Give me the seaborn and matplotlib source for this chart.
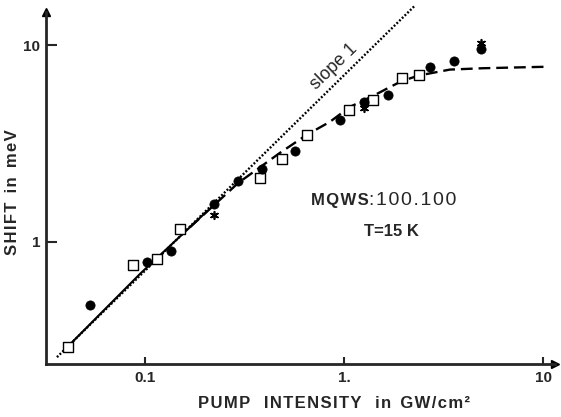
import numpy as np
import matplotlib
matplotlib.use("Agg")
import matplotlib.pyplot as plt
import pandas as pd
import seaborn as sns

# values (log-log)
sq_x = [0.041, 0.087, 0.115, 0.150, 0.378, 0.487, 0.647, 1.06, 1.40, 1.94, 2.38]
sq_y = [0.292, 0.764, 0.817, 1.16, 2.10, 2.62, 3.49, 4.67, 5.25, 6.82, 7.04]

dot_x = [0.053, 0.102, 0.135, 0.222, 0.294, 0.385, 0.569, 0.951, 1.26, 1.66, 2.71, 3.57, 4.88]
dot_y = [0.477, 0.791, 0.900, 1.55, 2.04, 2.33, 2.90, 4.18, 5.16, 5.57, 7.73, 8.32, 9.51]

star_x = [0.222, 1.26, 4.88]
star_y = [1.36, 4.77, 10.2]

# slope 1 reference line end points
slope_x = [0.0362, 2.27]
slope_y = [0.259, 15.9]

# fitted curve (solid at low intensity, dashed after)
fit_lo_x = [0.041, 0.095, 0.169, 0.205]
fit_lo_y = [0.293, 0.69, 1.19, 1.43]
fit_hi_x = [0.169, 0.294, 0.476, 0.647, 0.848, 1.07, 1.39, 1.69, 1.94, 2.37, 3.39, 4.96, 10.7]
fit_hi_y = [1.19, 1.99, 2.83, 3.49, 4.07, 4.85, 5.5, 6.1, 6.55, 7.0, 7.5, 7.62, 7.76]

xticks = [0.1, 1, 10]
xticklabels = ["0.1", "1.", "10"]
yticks = [1, 10]
yticklabels = ["1", "10"]


def spaced(s):
    # hair spaces between letters, the scan uses wide lettering
    return "\u200a".join(s)


sns.set_style("ticks")
plt.rcParams['font.family'] = ['Liberation Sans', 'DejaVu Sans']

fig = plt.figure(figsize=(5.61, 4.17), dpi=100)
ax = fig.add_axes([0.082, 0.127, 0.907, 0.844])
ax.set_xscale('log')
ax.set_yscale('log')

sns.lineplot(x=slope_x, y=slope_y, ax=ax, color='k', lw=1.7,
             linestyle=(0, (0.8, 0.8)), clip_on=False)
sns.lineplot(x=fit_lo_x, y=fit_lo_y, ax=ax, color='k', lw=1.5)
sns.lineplot(x=fit_hi_x, y=fit_hi_y, ax=ax, color='k', lw=1.7,
             linestyle=(0, (5, 2.5)))

sns.scatterplot(x=sq_x, y=sq_y, ax=ax, marker='s', s=45, facecolor='white',
                edgecolor='k', linewidth=1.0, zorder=4)
sns.scatterplot(x=dot_x, y=dot_y, ax=ax, marker='o', s=44, color='k',
                edgecolor='k', zorder=5)
sns.scatterplot(x=star_x, y=star_y, ax=ax, marker=(6, 2, 0), s=30, color='k',
                linewidth=1.2, zorder=5)

ax.set_xlim(0.0319, 11.4)
ax.set_ylim(0.239, 14.7)

ax.xaxis.set_minor_locator(matplotlib.ticker.NullLocator())
ax.yaxis.set_minor_locator(matplotlib.ticker.NullLocator())
ax.set_xticks(xticks)
ax.set_xticklabels(xticklabels, fontsize=11, fontweight='bold')
ax.set_yticks(yticks)
ax.set_yticklabels(yticklabels, fontsize=11, fontweight='bold')
ax.tick_params(axis='x', direction='in', length=5, width=1.5, pad=5)
ax.tick_params(axis='y', direction='in', length=8, width=1.5, pad=4)

sns.despine(ax=ax)
ax.spines['left'].set_linewidth(2)
ax.spines['bottom'].set_linewidth(2)
ax.plot(1, 0, '>k', ms=6, transform=ax.transAxes, clip_on=False)
ax.plot(0, 1, '^k', ms=6, transform=ax.transAxes, clip_on=False)

ax.set_xlabel(spaced("PUMP") + "   " + spaced("INTENSITY") + "   " + spaced("in")
              + "  " + spaced("GW/cm²"), fontsize=12, fontweight='bold')
ax.xaxis.set_label_coords(0.595, 0.05, transform=fig.transFigure)
ax.set_ylabel(spaced("SHIFT") + "  " + spaced("in") + "  " + spaced("meV"),
              fontsize=12, fontweight='bold')
ax.yaxis.set_label_coords(0.036, 0.54, transform=fig.transFigure)

fig.text(0.554, 0.52, spaced("MQWS"), fontsize=12, fontweight='bold',
         ha='left', va='center')
fig.text(0.657, 0.52, spaced(":100.100"), fontsize=14, ha='left', va='center')
fig.text(0.697, 0.444, "T=15 K", fontsize=12, fontweight='bold',
         ha='center', va='center')
fig.text(0.595, 0.84, "slope 1", fontsize=13, rotation=44,
         ha='center', va='center')

plt.savefig("out.png", dpi=100, facecolor='w')
